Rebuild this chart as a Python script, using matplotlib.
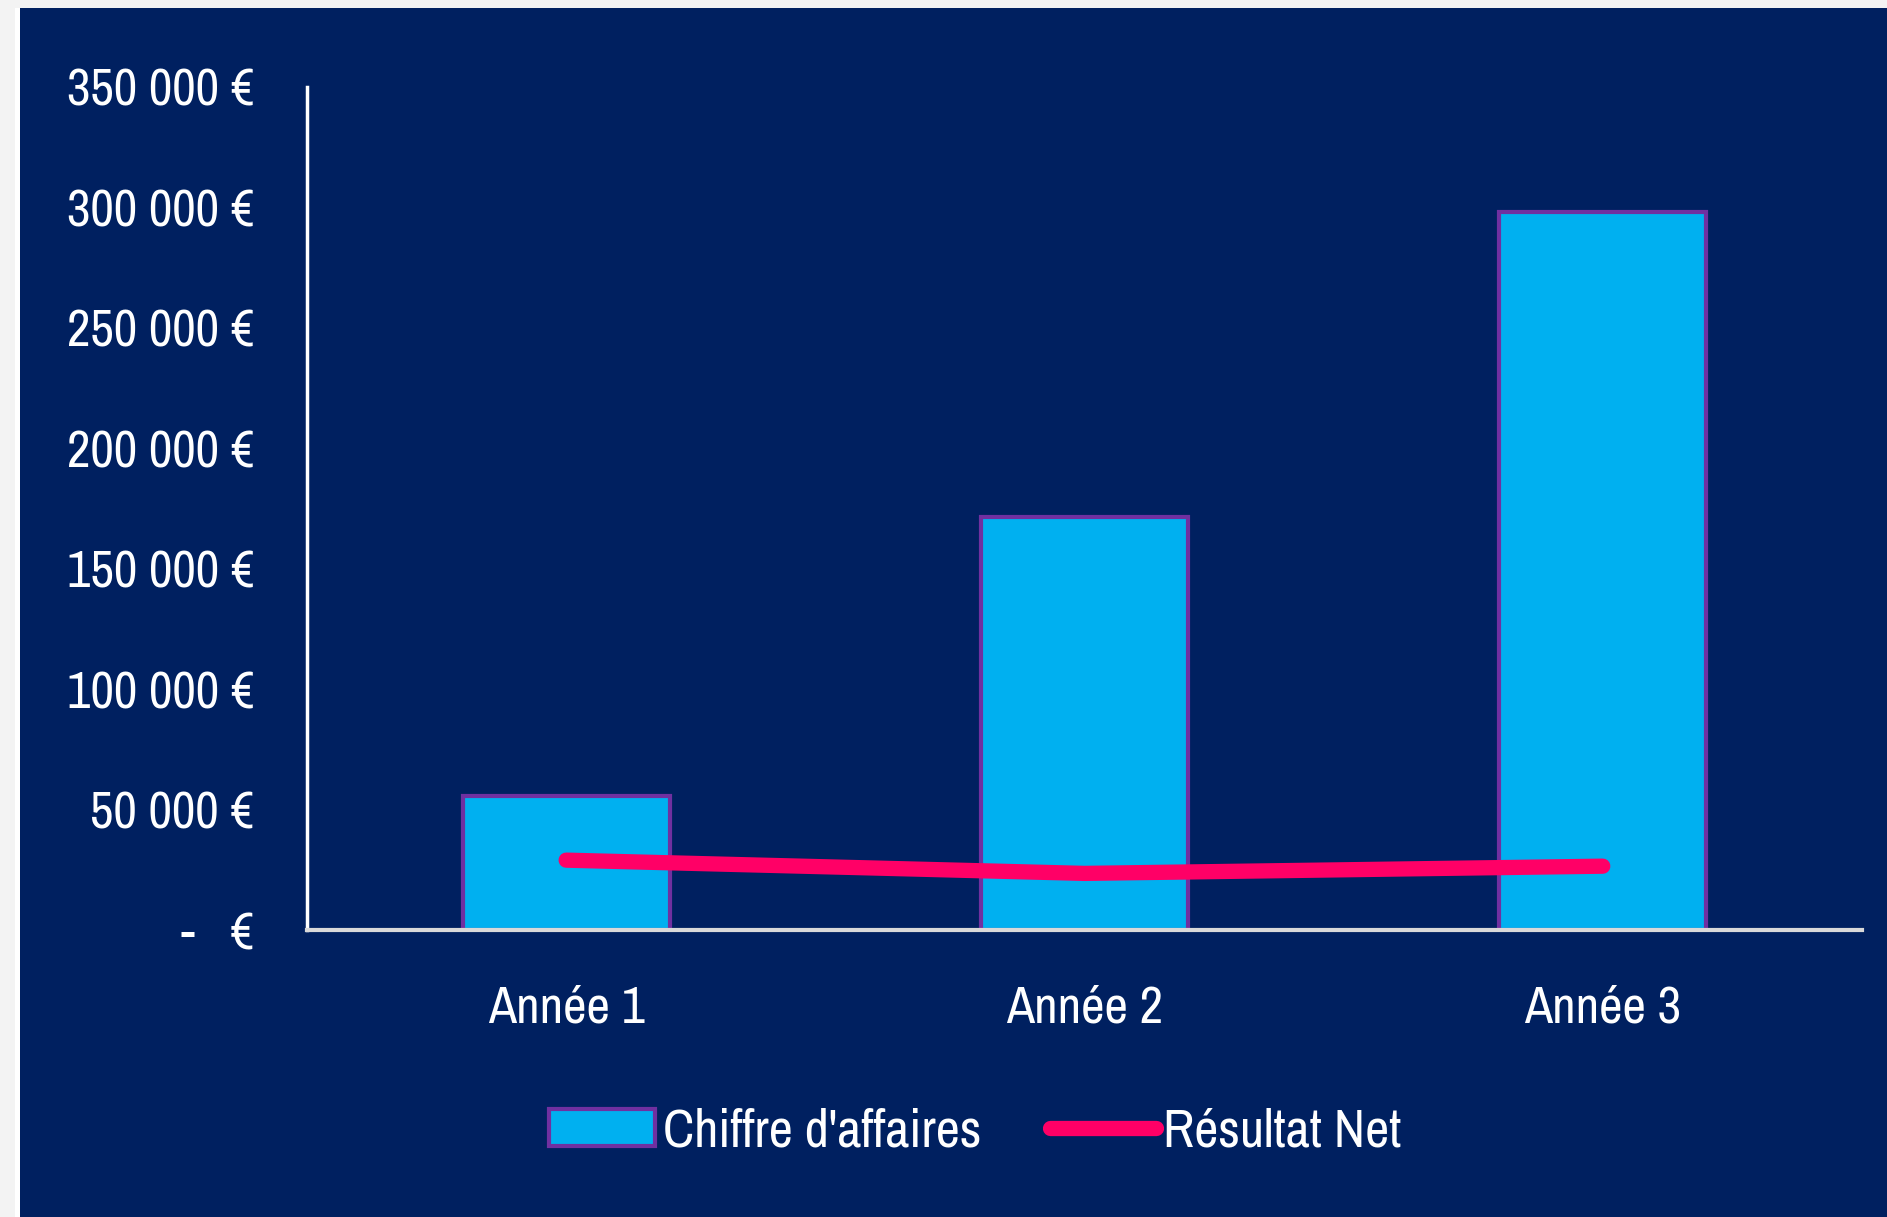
import matplotlib
matplotlib.use("Agg")
import matplotlib.pyplot as plt
from matplotlib import font_manager
from matplotlib.patches import Rectangle
from matplotlib.ticker import FuncFormatter, MultipleLocator

# ---------------- Data ----------------
annees = ["Année 1", "Année 2", "Année 3"]
chiffre_affaires = [55500, 171500, 298000]
resultat_net = [29000, 23500, 26500]

# ---------------- Style ----------------
NAVY = "#002060"
BAR = "#00B0F0"
BAR_EDGE = "#7030A0"
LINE = "#FF0066"

# a narrow face looks closest to the original; fall back to Liberation Sans
narrow = [f.name for f in font_manager.fontManager.ttflist
          if "Narrow" in f.name or "Condensed" in f.name]
if narrow:
    plt.rcParams["font.family"] = [narrow[0], "DejaVu Sans"]
    FS = 37
else:
    plt.rcParams["font.family"] = ["Liberation Sans", "DejaVu Sans"]
    FS = 31

fig = plt.figure(figsize=(18.87, 12.17), dpi=100, facecolor="#f3f3f3")
# white strip + navy panel behind everything
fig.patches.append(Rectangle((0.008, 0), 0.992, 0.9934, transform=fig.transFigure,
                             facecolor="white", edgecolor="none", zorder=-2))
fig.patches.append(Rectangle((0.0108, 0), 0.9892, 0.9934, transform=fig.transFigure,
                             facecolor=NAVY, edgecolor="none", zorder=-1))

ax = fig.add_axes([0.1627, 0.2358, 0.824, 0.693])
ax.set_facecolor(NAVY)

x = range(len(annees))
bars = ax.bar(x, chiffre_affaires, width=0.4, color=BAR, edgecolor=BAR_EDGE,
              linewidth=3, label="Chiffre d'affaires", zorder=2)
line, = ax.plot(x, resultat_net, color=LINE, linewidth=11, solid_capstyle="round",
                label="Résultat Net", zorder=3)

ax.set_xlim(-0.5, 2.5)
ax.set_ylim(0, 350000)
ax.yaxis.set_major_locator(MultipleLocator(50000))


def euro(v, pos):
    if v == 0:
        return "-   €"
    return f"{v:,.0f} €".replace(",", " ")


ax.yaxis.set_major_formatter(FuncFormatter(euro))
ax.set_xticks(list(x))
ax.set_xticklabels(annees)
ax.tick_params(axis="y", length=0, pad=38, labelsize=FS, colors="white")
ax.tick_params(axis="x", length=0, pad=39, labelsize=FS, colors="white")

for s in ["top", "right"]:
    ax.spines[s].set_visible(False)
ax.spines["left"].set_color("white")
ax.spines["left"].set_linewidth(2.5)
ax.spines["bottom"].set_color("#d9d9d9")
ax.spines["bottom"].set_linewidth(3)
ax.spines["bottom"].set_zorder(4)

leg = fig.legend([bars, line], ["Chiffre d'affaires", "Résultat Net"],
                 loc="center", bbox_to_anchor=(0.517, 0.0705), ncol=2,
                 frameon=False, fontsize=FS + 1, handlelength=2.0,
                 handletextpad=0.15, columnspacing=1.3)
for t in leg.get_texts():
    t.set_color("white")

fig.savefig("out.png", dpi=100, facecolor=fig.get_facecolor())
